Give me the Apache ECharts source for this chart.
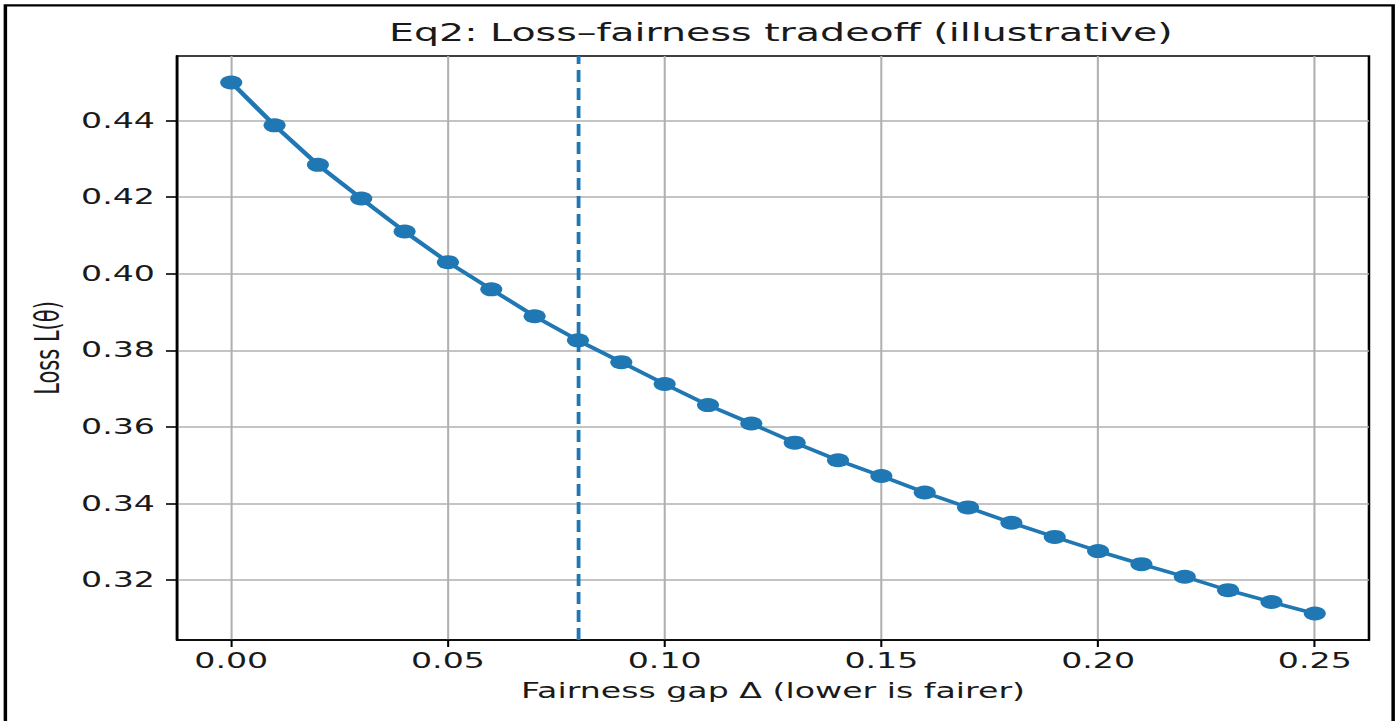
<!DOCTYPE html>
<html>
<head>
<meta charset="utf-8">
<script src="https://cdn.jsdelivr.net/npm/echarts@6/dist/echarts.min.js"></script>
<style>
  html, body { margin: 0; padding: 0; background: #fff; overflow: hidden; }
  #wrap { width: 1399px; height: 721px; overflow: hidden; position: relative; }
  #chart { width: 885px; height: 721px; transform: scaleX(1.5808); transform-origin: 0 0; }
</style>
</head>
<body>
<div id="wrap"><div id="chart"></div></div>
<script>
// ---- data ----
const gapValues = [0.00, 0.01, 0.02, 0.03, 0.04, 0.05, 0.06, 0.07, 0.08, 0.09,
                   0.10, 0.11, 0.12, 0.13, 0.14, 0.15, 0.16, 0.17, 0.18, 0.19,
                   0.20, 0.21, 0.22, 0.23, 0.24, 0.25];
const lossValues = [0.4499, 0.4387, 0.4284, 0.4196, 0.4110, 0.4030, 0.3959, 0.3889, 0.3826, 0.3769,
                    0.3712, 0.3657, 0.3609, 0.3559, 0.3513, 0.3472, 0.3429, 0.3390, 0.3350, 0.3313,
                    0.3276, 0.3242, 0.3209, 0.3174, 0.3143, 0.3113];
const chosenGap = 0.08;
const xTicks = [0.00, 0.05, 0.10, 0.15, 0.20, 0.25];
const yTicks = [0.32, 0.34, 0.36, 0.38, 0.40, 0.42, 0.44];
const xRange = [-0.0125, 0.2625];
const yRange = [0.3044, 0.4568];
const titleText = 'Eq2: Loss\u2013fairness tradeoff (illustrative)';
const xName = 'Fairness gap \u0394 (lower is fairer)';
const yName = 'Loss L(\u03b8)';

const points = gapValues.map((g, i) => [g, lossValues[i]]);

const FONT = 'DejaVu Sans';
const TXT = '#1a1a1a';
const C0 = '#1f77b4';

const chart = echarts.init(document.getElementById('chart'), null, { renderer: 'svg' });
chart.setOption({
  backgroundColor: '#fff',
  animation: false,
  title: {
    text: titleText,
    left: 489,
    textAlign: 'center',
    top: 15,
    textStyle: { fontFamily: FONT, fontSize: 25, fontWeight: 'normal', color: TXT }
  },
  graphic: [{
    type: 'rect',
    shape: { x: 3.4, y: 5.3, width: 877.9, height: 740 },
    style: { fill: 'none', stroke: '#000', lineWidth: 2.2 },
    z: 100
  }],
  grid: {
    left: 112, right: 19, top: 56, bottom: 81,
    show: true, borderColor: '#000', borderWidth: 1.6, backgroundColor: 'transparent',
    outerBoundsMode: 'none'
  },
  xAxis: {
    type: 'value',
    min: xRange[0], max: xRange[1],
    name: xName,
    nameLocation: 'middle',
    nameGap: 40,
    nameTextStyle: { fontFamily: FONT, fontSize: 21, color: TXT },
    axisLine: { show: true, onZero: false, lineStyle: { color: '#000', width: 1.6 } },
    axisTick: { show: true, length: 7, customValues: xTicks, lineStyle: { color: '#000', width: 1.3 } },
    axisLabel: {
      customValues: xTicks, margin: 10,
      fontFamily: FONT, fontSize: 21, color: TXT,
      formatter: v => v.toFixed(2)
    },
    splitLine: { show: true, lineStyle: { color: '#b0b0b0', width: 1.3 } }
  },
  yAxis: {
    type: 'value',
    min: yRange[0], max: yRange[1],
    name: yName,
    nameLocation: 'middle',
    nameGap: 70,
    nameRotate: 90,
    nameTextStyle: { fontFamily: FONT, fontSize: 21, color: TXT },
    axisLine: { show: true, onZero: false, lineStyle: { color: '#000', width: 1.6 } },
    axisTick: { show: true, length: 7, customValues: yTicks, lineStyle: { color: '#000', width: 1.6 } },
    axisLabel: {
      customValues: yTicks, margin: 14,
      fontFamily: FONT, fontSize: 21, color: TXT,
      formatter: v => v.toFixed(2)
    },
    splitLine: { show: true, lineStyle: { color: '#b0b0b0', width: 1.6 } }
  },
  series: [{
    type: 'line',
    data: points,
    symbol: 'circle',
    symbolSize: 14,
    lineStyle: { color: C0, width: 3.4 },
    itemStyle: { color: C0 },
    z: 3,
    markLine: {
      silent: true,
      symbol: ['none', 'none'],
      label: { show: false },
      lineStyle: { color: C0, type: [12, 6], width: 2.4 },
      data: [{ xAxis: chosenGap }],
      z: 5
    }
  }]
});
</script>
</body>
</html>
